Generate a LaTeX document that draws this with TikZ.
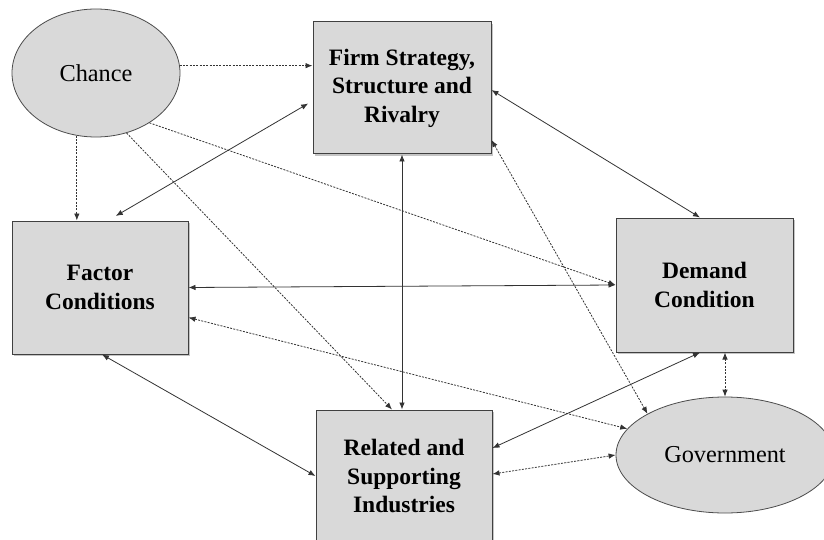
\documentclass[tikz,border=0pt]{standalone}
\usepackage{fontspec}
\setmainfont{Liberation Serif}
\usetikzlibrary{arrows.meta,shadows,shapes.geometric}
\definecolor{boxgray}{HTML}{D9D9D9}
\begin{document}
\begin{tikzpicture}[x=1pt,y=-1pt,
  box/.style={draw=black!75, line width=1pt, fill=boxgray, minimum width=176pt, minimum height=132pt,
    inner sep=0pt, align=center, font=\fontsize{23.5}{28.5}\selectfont\bfseries,
    drop shadow={shadow xshift=2pt,shadow yshift=-2pt,fill=black!45,opacity=0.5}},
  oval/.style={ellipse, draw=black!70, line width=0.8pt, fill=boxgray, inner sep=0pt,
    font=\fontsize{24.3}{28}\selectfont},
  both/.style={line width=0.8pt, draw=black!80, {Latex[length=7pt,width=5.5pt]}-{Latex[length=7pt,width=5.5pt]}},
  one/.style={line width=0.8pt, draw=black!80, -{Latex[length=7pt,width=5.5pt]}},
  dsh/.style={dash pattern=on 2pt off 1.3pt}]
\useasboundingbox (0,0) rectangle (824,540);
\clip (0,0) rectangle (824,540);
\fill[white] (0,0) rectangle (824,540);

\node[oval, minimum width=168pt, minimum height=128pt] (chance) at (96,73) {Chance};
\node[oval, minimum width=218pt, minimum height=116pt] (gov) at (725,455) {Government};
\node[box, minimum width=178pt] (firm) at (402,88) {Firm Strategy,\\Structure and\\Rivalry};
\node[box, minimum height=133pt] (factor) at (100,287.5) {Factor\\Conditions};
\node[box, minimum width=177pt, minimum height=134pt] (demand) at (704.5,285) {Demand\\Condition};
\node[box] (related) at (404,476) {Related and\\Supporting\\Industries};

% Chance arrows (dashed, one-way)
\draw[one,dsh] (chance.5.5) -- (chance.5.5 -| firm.west);
\draw[one,dsh] (chance.253) -- (chance.253 |- factor.north);
\draw[one,dsh] (chance.317) -- (demand.west);
\draw[one,dsh] (chance.297) -- ([xshift=-12pt]related.north);

% two-way solid
\draw[both, shorten <=9pt, shorten >=5pt] ([xshift=8pt]factor.north) -- ([yshift=-13pt]firm.west);
\draw[both] (firm.south) -- (firm.south |- related.north);
\draw[both] ([yshift=-2pt]firm.east) -- ([xshift=-4.5pt]demand.north);
\draw[both] (factor.east) -- (demand.west);
\draw[both] ([xshift=2pt]factor.south) -- (related.west);
\draw[both] ([yshift=28pt]related.east) -- ([xshift=-4.5pt]demand.south);

% two-way dashed
\draw[both,dsh] ([yshift=-52pt]firm.east) -- (gov.152);
\draw[both,dsh] ([yshift=-30pt]factor.east) -- (gov.165);
\draw[both,dsh] ([yshift=2pt]related.east) -- (gov.west);
\draw[both,dsh] ([xshift=20.5pt]demand.south) -- (gov.north);
\end{tikzpicture}
\end{document}
